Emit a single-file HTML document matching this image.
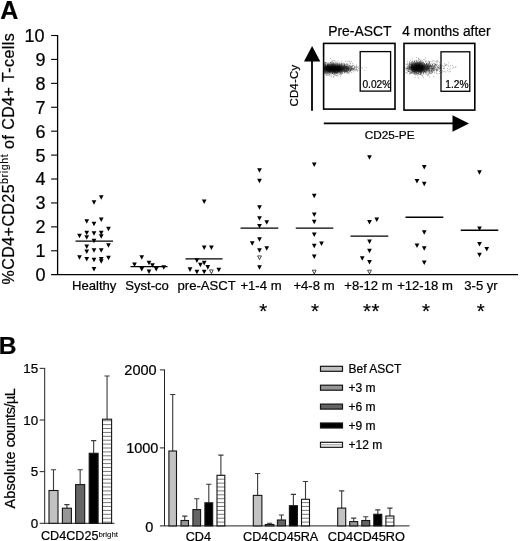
<!DOCTYPE html><html><head><meta charset="utf-8"><style>html,body{margin:0;padding:0;background:#fff}svg{display:block;will-change:transform}text{font-family:"Liberation Sans",sans-serif;fill:#000;stroke:#000;stroke-width:.22px}</style></head><body>
<svg width="520" height="541" viewBox="0 0 520 541">
<rect width="520" height="541" fill="#fff"/>
<defs><path id="t" d="M-2.35,-2.15L2.35,-2.15L0,2.45Z" fill="#000"/><path id="o" d="M-1.9,-1.8L1.9,-1.8L0,2Z" fill="#fff" stroke="#000" stroke-width="0.7"/>
<pattern id="hs" width="4" height="3.9" patternUnits="userSpaceOnUse"><rect width="4" height="3.9" fill="#fff"/><rect y="2.9" width="4" height="1" fill="#777"/></pattern>
</defs>
<text x="0.2" y="19.2" font-size="25" font-weight="bold">A</text>
<path d="M57.6,34.99999999999997V274.7M51.1,274.7H518" fill="none" stroke="#000" stroke-width="1.3"/>
<path d="M51.1,250.78H57.6" stroke="#000" stroke-width="1.1"/>
<path d="M51.1,226.86H57.6" stroke="#000" stroke-width="1.1"/>
<path d="M51.1,202.94H57.6" stroke="#000" stroke-width="1.1"/>
<path d="M51.1,179.02H57.6" stroke="#000" stroke-width="1.1"/>
<path d="M51.1,155.10H57.6" stroke="#000" stroke-width="1.1"/>
<path d="M51.1,131.18H57.6" stroke="#000" stroke-width="1.1"/>
<path d="M51.1,107.26H57.6" stroke="#000" stroke-width="1.1"/>
<path d="M51.1,83.34H57.6" stroke="#000" stroke-width="1.1"/>
<path d="M51.1,59.42H57.6" stroke="#000" stroke-width="1.1"/>
<path d="M51.1,35.50H57.6" stroke="#000" stroke-width="1.1"/>
<text x="45.6" y="281.10" font-size="18" text-anchor="end">0</text>
<text x="45.6" y="257.18" font-size="18" text-anchor="end">1</text>
<text x="45.6" y="233.26" font-size="18" text-anchor="end">2</text>
<text x="45.6" y="209.34" font-size="18" text-anchor="end">3</text>
<text x="45.6" y="185.42" font-size="18" text-anchor="end">4</text>
<text x="45.6" y="161.50" font-size="18" text-anchor="end">5</text>
<text x="45.6" y="137.58" font-size="18" text-anchor="end">6</text>
<text x="45.6" y="113.66" font-size="18" text-anchor="end">7</text>
<text x="45.6" y="89.74" font-size="18" text-anchor="end">8</text>
<text x="45.6" y="65.82" font-size="18" text-anchor="end">9</text>
<text x="44.6" y="41.90" font-size="18" text-anchor="end">10</text>
<text transform="translate(13.8,284.4) rotate(-90)" font-size="16" letter-spacing="0.44">%CD4+CD25<tspan font-size="10.5" dy="-5.6" letter-spacing="0.65" stroke-width="0.1">bright</tspan><tspan dy="5.6"> of CD4+ T-cells</tspan></text>
<path d="M75.5,241.10H113" stroke="#000" stroke-width="1.4"/>
<use href="#t" x="101.25" y="197.30"/>
<use href="#t" x="94" y="202.30"/>
<use href="#t" x="86.75" y="221.30"/>
<use href="#t" x="101.25" y="219.55"/>
<use href="#t" x="94" y="223.80"/>
<use href="#t" x="108.5" y="228.80"/>
<use href="#t" x="79.5" y="235.80"/>
<use href="#t" x="86.75" y="232.80"/>
<use href="#t" x="94" y="233.30"/>
<use href="#t" x="101.25" y="232.80"/>
<use href="#t" x="86.75" y="237.30"/>
<use href="#t" x="101.25" y="236.30"/>
<use href="#t" x="94" y="240.80"/>
<use href="#t" x="108.5" y="245.30"/>
<use href="#t" x="86.75" y="246.55"/>
<use href="#t" x="86.75" y="251.55"/>
<use href="#t" x="94" y="250.30"/>
<use href="#t" x="101.25" y="250.30"/>
<use href="#t" x="79.5" y="257.30"/>
<use href="#t" x="86.75" y="259.05"/>
<use href="#t" x="94" y="259.80"/>
<use href="#t" x="101.25" y="259.05"/>
<use href="#t" x="101.25" y="261.30"/>
<use href="#t" x="108.5" y="257.80"/>
<use href="#t" x="94" y="269.05"/>
<text x="94.2" y="290.3" font-size="13.1" text-anchor="middle">Healthy</text>
<path d="M130.5,266.60H167.5" stroke="#000" stroke-width="1.4"/>
<use href="#t" x="141.75" y="257.30"/>
<use href="#t" x="134.5" y="264.55"/>
<use href="#t" x="149" y="262.80"/>
<use href="#t" x="152.5" y="265.30"/>
<use href="#t" x="141.75" y="269.05"/>
<use href="#t" x="156.25" y="269.05"/>
<use href="#t" x="163.75" y="267.30"/>
<use href="#t" x="149" y="271.55"/>
<text x="147" y="290.3" font-size="13.1" text-anchor="middle">Syst-co</text>
<path d="M185.5,258.90H222.6" stroke="#000" stroke-width="1.4"/>
<use href="#t" x="204.2" y="201.55"/>
<use href="#t" x="204.2" y="247.60"/>
<use href="#t" x="211.4" y="247.60"/>
<use href="#t" x="196.9" y="260.50"/>
<use href="#t" x="204.2" y="263.00"/>
<use href="#t" x="200.4" y="264.90"/>
<use href="#t" x="207.8" y="267.20"/>
<use href="#t" x="190" y="269.50"/>
<use href="#t" x="196.9" y="271.80"/>
<use href="#t" x="204.2" y="271.80"/>
<use href="#t" x="218.8" y="269.90"/>
<use href="#o" x="211.4" y="271.70"/>
<text x="206.7" y="290.3" font-size="13.1" text-anchor="middle">pre-ASCT</text>
<path d="M240.5,228.10H278.3" stroke="#000" stroke-width="1.4"/>
<use href="#t" x="259.5" y="170.30"/>
<use href="#t" x="259.5" y="180.80"/>
<use href="#t" x="259.5" y="207.30"/>
<use href="#t" x="259.5" y="218.30"/>
<use href="#t" x="266.75" y="222.30"/>
<use href="#t" x="259.5" y="226.05"/>
<use href="#t" x="259.5" y="239.30"/>
<use href="#t" x="252.25" y="243.30"/>
<use href="#t" x="266.75" y="248.30"/>
<use href="#t" x="259.5" y="250.30"/>
<use href="#t" x="259.5" y="267.30"/>
<use href="#o" x="259.5" y="257.70"/>
<text x="261" y="290.3" font-size="13.1" text-anchor="middle">+1-4 m</text>
<path d="M295.75,228.10H333.3" stroke="#000" stroke-width="1.4"/>
<use href="#t" x="314.25" y="164.55"/>
<use href="#t" x="314.25" y="195.80"/>
<use href="#t" x="314.25" y="214.55"/>
<use href="#t" x="314.25" y="221.80"/>
<use href="#t" x="314.25" y="234.55"/>
<use href="#t" x="314.25" y="245.80"/>
<use href="#t" x="321.5" y="243.55"/>
<use href="#t" x="314.25" y="256.55"/>
<use href="#o" x="314.25" y="271.95"/>
<text x="314" y="290.3" font-size="13.1" text-anchor="middle">+4-8 m</text>
<path d="M350.5,236.10H388.3" stroke="#000" stroke-width="1.4"/>
<use href="#t" x="369.5" y="157.30"/>
<use href="#t" x="369.5" y="222.05"/>
<use href="#t" x="376.75" y="219.55"/>
<use href="#t" x="369.5" y="241.55"/>
<use href="#t" x="369.5" y="250.80"/>
<use href="#t" x="362.25" y="258.30"/>
<use href="#t" x="369.5" y="262.05"/>
<use href="#o" x="369.5" y="271.95"/>
<text x="368.5" y="290.3" font-size="13.1" text-anchor="middle">+8-12 m</text>
<path d="M405.5,217.30H443.3" stroke="#000" stroke-width="1.4"/>
<use href="#t" x="424.25" y="167.05"/>
<use href="#t" x="417" y="181.05"/>
<use href="#t" x="424.25" y="183.80"/>
<use href="#t" x="424.25" y="232.30"/>
<use href="#t" x="417" y="245.55"/>
<use href="#t" x="424.25" y="248.30"/>
<use href="#t" x="424.25" y="262.55"/>
<text x="425" y="290.3" font-size="13.1" text-anchor="middle">+12-18 m</text>
<path d="M460.75,230.30H498.3" stroke="#000" stroke-width="1.4"/>
<use href="#t" x="479.5" y="172.30"/>
<use href="#t" x="479.5" y="228.55"/>
<use href="#t" x="479.5" y="244.05"/>
<use href="#t" x="486.75" y="249.05"/>
<use href="#t" x="479.5" y="254.80"/>
<text x="481" y="290.3" font-size="13.1" text-anchor="middle">3-5 yr</text>
<text x="263.5" y="317.5" font-size="20.5" text-anchor="middle" stroke="#000" stroke-width="0.35" letter-spacing="0.6">*</text>
<text x="315.3" y="317.5" font-size="20.5" text-anchor="middle" stroke="#000" stroke-width="0.35" letter-spacing="0.6">*</text>
<text x="371.6" y="317.5" font-size="20.5" text-anchor="middle" stroke="#000" stroke-width="0.35" letter-spacing="0.6">**</text>
<text x="426.3" y="317.5" font-size="20.5" text-anchor="middle" stroke="#000" stroke-width="0.35" letter-spacing="0.6">*</text>
<text x="481" y="317.5" font-size="20.5" text-anchor="middle" stroke="#000" stroke-width="0.35" letter-spacing="0.6">*</text>
<text x="328.2" y="36.3" font-size="13.9">Pre-ASCT</text>
<text x="402.3" y="36" font-size="13.8">4 months after</text>
<rect x="323.6" y="43.4" width="71.4" height="65.7" fill="none" stroke="#000" stroke-width="1.6"/>
<rect x="404" y="43.4" width="70.8" height="66.7" fill="none" stroke="#000" stroke-width="1.6"/>
<defs><filter id="bl" x="-50%" y="-50%" width="200%" height="200%"><feGaussianBlur stdDeviation="1.4"/></filter><clipPath id="c1"><rect x="323.6" y="43.4" width="71.8" height="65"/></clipPath><clipPath id="c2"><rect x="404" y="43.4" width="70.3" height="66"/></clipPath></defs>
<g clip-path="url(#c1)">
<ellipse cx="332" cy="68.6" rx="10.5" ry="4.3" fill="#000" opacity="0.95" filter="url(#bl)"/>
<ellipse cx="344" cy="68.6" rx="9" ry="2.4" fill="#000" opacity="0.55" filter="url(#bl)"/>
<path d="M331.1 70.1h.6M331.3 67.7h.6M326.0 68.0h.6M341.3 69.8h.6M340.8 69.3h.6M336.0 69.1h.6M320.5 71.1h.6M336.8 70.0h.6M323.2 63.5h.6M329.5 69.5h.6M332.7 70.1h.6M328.2 69.5h.6M336.0 66.7h.6M345.9 70.2h.6M342.0 66.8h.6M327.5 67.6h.6M332.2 70.4h.6M334.9 67.3h.6M325.8 67.1h.6M342.2 66.3h.6M334.8 69.8h.6M321.8 68.7h.6M342.8 62.8h.6M330.6 68.3h.6M326.9 70.0h.6M332.5 64.4h.6M339.2 70.5h.6M340.1 72.8h.6M335.7 68.9h.6M323.3 70.4h.6M328.4 67.3h.6M323.5 65.8h.6M329.0 72.3h.6M321.2 64.4h.6M343.8 70.3h.6M321.6 61.3h.6M327.5 65.4h.6M340.3 71.8h.6M334.2 69.3h.6M336.3 73.2h.6M337.6 70.1h.6M337.1 64.1h.6M342.6 71.4h.6M337.0 62.9h.6M328.2 71.0h.6M323.6 68.1h.6M323.2 73.3h.6M337.1 68.2h.6M335.4 70.5h.6M333.9 71.9h.6M328.0 67.4h.6M340.8 68.7h.6M326.4 71.3h.6M344.0 67.3h.6M322.7 68.2h.6M331.9 67.7h.6M343.5 65.6h.6M342.5 64.9h.6M327.1 70.4h.6M341.5 71.1h.6M335.6 69.0h.6M334.1 70.3h.6M331.7 69.4h.6M337.3 68.6h.6M338.7 70.2h.6M348.1 69.5h.6M329.8 67.5h.6M332.9 71.3h.6M330.5 69.7h.6M346.8 61.2h.6M324.6 69.3h.6M336.0 69.3h.6M329.8 70.5h.6M335.1 67.1h.6M351.2 69.6h.6M328.8 68.3h.6M331.3 68.4h.6M323.5 67.2h.6M324.2 68.4h.6M340.2 71.1h.6M344.2 63.7h.6M330.3 67.6h.6M337.7 71.8h.6M324.8 71.8h.6M338.1 64.3h.6M334.3 72.1h.6M331.9 69.2h.6M339.0 69.0h.6M332.3 73.0h.6M340.9 67.7h.6M353.6 65.3h.6M339.9 67.8h.6M334.0 70.6h.6M334.7 70.5h.6M321.5 64.2h.6M337.6 65.8h.6M325.3 64.3h.6M342.5 70.8h.6M344.0 65.9h.6M333.0 65.3h.6M338.7 73.2h.6M326.3 73.1h.6M340.4 68.1h.6M320.8 72.7h.6M328.5 69.8h.6M336.1 72.9h.6M325.3 71.9h.6M344.2 72.8h.6M331.6 66.4h.6M340.6 68.9h.6M333.9 72.7h.6M331.0 61.9h.6M330.1 63.2h.6M339.1 69.5h.6M328.4 68.6h.6M339.2 68.8h.6M342.9 68.4h.6M340.8 72.9h.6M345.1 66.7h.6M339.6 63.2h.6M324.9 62.9h.6M341.0 65.0h.6M332.9 68.0h.6M332.8 66.9h.6M334.8 73.8h.6M333.3 70.1h.6M340.5 68.0h.6M323.6 67.0h.6M341.1 63.8h.6M328.5 71.5h.6M338.9 68.6h.6M339.0 69.1h.6M324.2 64.1h.6M328.2 71.3h.6M328.8 66.0h.6M327.2 64.2h.6M332.1 65.2h.6M335.7 61.8h.6M335.5 66.7h.6M321.3 70.7h.6M321.4 66.1h.6M329.6 70.9h.6M338.6 70.5h.6M335.4 72.5h.6M337.9 69.9h.6M324.4 71.2h.6M330.8 67.2h.6M347.6 63.5h.6M336.5 75.6h.6M326.0 70.6h.6M347.1 68.3h.6M337.2 71.2h.6M326.2 68.3h.6M335.2 71.0h.6M332.7 68.0h.6M325.4 67.6h.6M339.7 68.9h.6M326.6 66.2h.6M353.0 71.9h.6M337.8 61.1h.6M337.7 70.0h.6M345.6 69.8h.6M332.5 70.1h.6M321.5 71.6h.6M327.7 72.4h.6M346.6 64.5h.6M328.0 69.4h.6M334.4 67.4h.6M325.7 74.7h.6M340.8 65.1h.6M322.9 73.5h.6M340.4 73.9h.6M339.1 66.1h.6M335.0 62.3h.6M327.4 68.4h.6M336.9 66.5h.6M332.1 69.9h.6M335.8 70.5h.6M334.6 67.7h.6M338.9 68.7h.6M326.8 66.8h.6M333.0 68.3h.6M334.2 68.6h.6M334.3 68.2h.6M323.6 69.8h.6M340.9 69.9h.6M331.6 69.9h.6M325.8 63.1h.6M333.4 65.9h.6M338.5 65.5h.6M325.2 65.6h.6M330.1 64.6h.6M327.3 70.1h.6M336.7 69.1h.6M344.1 70.6h.6M332.8 70.3h.6M345.4 71.4h.6M340.7 65.5h.6M331.9 70.7h.6M330.8 71.7h.6M337.5 71.2h.6M331.4 76.0h.6M342.3 68.0h.6M333.7 76.1h.6M330.4 71.1h.6M340.4 68.6h.6M324.2 69.1h.6M335.7 71.9h.6M338.9 68.7h.6M339.4 70.2h.6M334.5 68.8h.6M331.2 70.6h.6M325.1 66.8h.6M333.0 64.4h.6M329.7 62.8h.6M327.9 70.2h.6M337.2 68.4h.6M331.3 64.5h.6M346.7 70.1h.6M341.2 66.0h.6M331.6 63.3h.6M338.9 71.3h.6M322.4 68.4h.6M323.7 63.3h.6M328.3 64.5h.6M333.2 69.3h.6M337.8 70.6h.6M344.3 72.0h.6M323.2 67.1h.6M325.0 65.5h.6M332.4 68.6h.6M336.7 64.0h.6M323.7 68.5h.6M331.5 67.7h.6M332.5 66.4h.6M338.3 69.6h.6M332.3 66.7h.6M331.7 60.7h.6M325.6 68.7h.6M321.7 69.2h.6M334.1 64.6h.6M331.1 67.7h.6M336.4 70.4h.6M332.7 66.1h.6M331.9 68.4h.6M338.5 69.5h.6M327.6 64.7h.6M330.2 66.5h.6M324.7 68.3h.6M329.3 68.9h.6M336.9 67.4h.6M350.4 67.7h.6M341.3 69.0h.6M341.4 61.7h.6M327.4 69.3h.6M337.5 75.4h.6M335.4 72.3h.6M338.7 71.3h.6M336.8 68.1h.6M336.8 65.5h.6M341.9 65.7h.6M334.9 74.8h.6M331.3 68.7h.6M341.7 68.7h.6M326.9 69.3h.6M337.4 70.7h.6M327.2 73.7h.6M345.5 68.7h.6M335.0 67.4h.6M343.6 66.6h.6M338.1 67.2h.6M327.8 70.7h.6M343.0 68.6h.6M327.9 71.0h.6M332.6 69.5h.6M344.4 71.9h.6M329.1 75.2h.6M333.0 70.9h.6M328.1 68.5h.6M324.6 73.8h.6M323.9 64.2h.6M320.8 72.0h.6M329.6 68.4h.6M330.7 68.2h.6M324.8 68.7h.6M322.2 68.4h.6M335.3 70.0h.6M331.3 66.0h.6M334.2 67.2h.6M344.7 70.8h.6M332.1 67.2h.6M327.7 65.9h.6M330.4 69.5h.6M336.9 70.2h.6M348.7 66.6h.6M333.1 76.7h.6M321.0 67.1h.6M334.2 69.8h.6M331.2 69.7h.6M333.4 70.8h.6M320.5 66.0h.6M325.3 65.6h.6M337.7 66.7h.6M337.8 70.8h.6M335.3 70.1h.6M332.2 64.5h.6M332.8 69.9h.6M329.0 68.3h.6M338.6 66.1h.6M337.8 74.0h.6M328.8 69.0h.6M331.9 73.1h.6M335.4 71.2h.6M327.8 68.6h.6M332.9 63.4h.6M343.8 71.2h.6M320.9 70.8h.6M336.4 69.7h.6M321.8 68.0h.6M344.2 66.9h.6M325.3 64.7h.6M323.8 69.6h.6M345.7 69.8h.6M334.8 75.1h.6M329.1 66.6h.6M337.0 70.2h.6M325.4 65.2h.6M335.2 69.3h.6M323.2 68.0h.6M328.9 69.9h.6M332.1 68.4h.6M330.3 71.7h.6M343.4 67.5h.6M339.3 66.4h.6M333.5 70.8h.6M344.4 67.5h.6M332.4 69.2h.6M321.8 68.6h.6M327.9 69.7h.6M324.5 62.9h.6M333.3 69.4h.6M328.9 71.2h.6M331.0 66.8h.6M336.6 64.1h.6M327.9 68.5h.6M339.4 68.1h.6M335.3 66.7h.6M335.3 73.4h.6M327.9 75.5h.6M328.2 68.6h.6M334.3 71.6h.6M323.7 62.5h.6M337.5 70.9h.6M337.7 76.2h.6M334.5 69.3h.6M340.0 69.7h.6M345.5 65.0h.6M330.2 58.6h.6M339.1 67.5h.6M339.9 74.8h.6M333.0 67.9h.6M329.3 66.2h.6M328.3 70.5h.6M333.3 68.8h.6M331.7 71.3h.6M336.7 68.2h.6M338.0 68.2h.6M324.4 72.8h.6M336.5 65.8h.6M341.1 69.6h.6M321.3 73.3h.6M335.5 71.2h.6M334.5 68.2h.6M321.4 71.4h.6M333.2 67.8h.6M335.6 68.8h.6M338.1 67.5h.6M332.7 62.4h.6M329.8 70.6h.6M343.0 67.5h.6M332.1 73.2h.6M330.6 70.7h.6M345.6 68.7h.6M342.2 66.5h.6M334.6 68.4h.6M333.9 71.9h.6M350.9 66.7h.6M328.7 70.0h.6M325.1 70.0h.6M337.3 67.8h.6M337.0 64.1h.6M338.7 64.1h.6M327.8 67.0h.6M330.0 71.1h.6M333.6 67.4h.6M337.1 73.2h.6M333.0 69.7h.6M342.3 69.4h.6M323.4 75.8h.6M349.6 62.8h.6M332.7 69.8h.6M340.2 70.5h.6M331.0 65.5h.6M333.8 71.6h.6M324.8 65.6h.6M332.8 63.0h.6M331.0 67.3h.6M336.4 66.6h.6M326.4 67.5h.6M332.6 66.7h.6M333.1 70.8h.6M341.9 73.5h.6M327.1 67.4h.6M322.7 74.1h.6M332.7 70.1h.6M322.8 69.9h.6M332.8 63.3h.6M335.2 72.1h.6M321.1 70.9h.6M336.6 69.9h.6M342.8 68.0h.6M339.6 67.4h.6M338.5 66.2h.6M332.2 73.6h.6M336.3 68.1h.6M324.4 66.3h.6M334.5 71.3h.6M336.2 70.1h.6M332.7 72.5h.6M330.1 67.0h.6M339.7 68.8h.6M330.9 66.9h.6M331.1 70.4h.6M335.7 65.1h.6M336.2 69.1h.6M325.5 70.8h.6M330.9 67.6h.6M339.0 72.4h.6M327.8 69.9h.6M326.4 75.3h.6M329.3 72.1h.6M328.1 71.0h.6M349.6 61.2h.6M329.7 70.1h.6M332.3 66.7h.6M349.1 68.8h.6M320.7 71.1h.6M322.2 71.9h.6M334.1 72.3h.6M333.9 64.6h.6M322.7 72.0h.6M326.9 71.1h.6M336.7 70.5h.6M323.2 67.7h.6M338.5 71.2h.6M322.0 69.1h.6M352.1 65.8h.6M330.5 68.7h.6M339.6 67.3h.6M341.6 66.3h.6M335.0 67.1h.6M334.2 66.6h.6M321.0 71.8h.6M335.3 67.0h.6M334.5 71.5h.6M325.7 68.3h.6M337.0 70.1h.6M330.5 62.5h.6M342.3 69.6h.6M333.1 67.8h.6M335.0 67.4h.6M325.3 66.5h.6M328.5 66.8h.6M324.3 70.4h.6M323.2 70.5h.6M325.4 69.6h.6M343.3 69.2h.6M327.5 68.7h.6M334.1 63.6h.6M328.4 69.1h.6M329.5 68.8h.6M338.5 70.8h.6M339.8 70.3h.6M330.8 68.5h.6M331.0 67.7h.6M331.7 63.6h.6M330.5 68.5h.6M325.7 68.5h.6M336.9 68.1h.6M348.6 61.0h.6M331.5 63.3h.6M340.3 76.3h.6M322.1 69.0h.6M330.7 70.2h.6M321.6 71.1h.6M333.2 66.9h.6M337.8 67.2h.6M334.7 67.1h.6M321.1 68.5h.6M338.7 66.1h.6M332.8 70.4h.6M334.1 72.2h.6M347.9 66.0h.6M325.1 71.1h.6M339.9 71.0h.6M328.4 66.5h.6M339.7 66.0h.6M328.0 65.7h.6M347.4 66.6h.6M327.5 69.3h.6M327.4 72.4h.6M332.4 65.4h.6M342.8 66.9h.6M334.7 68.6h.6M330.6 69.5h.6M327.8 63.3h.6M322.8 64.9h.6M332.8 68.8h.6M337.2 68.9h.6M327.0 66.5h.6M322.0 68.1h.6M337.0 68.2h.6M331.7 71.3h.6M333.1 70.7h.6M337.4 69.2h.6M342.8 66.9h.6M330.3 66.3h.6M327.0 73.1h.6M346.2 68.7h.6M337.3 72.0h.6M339.1 72.1h.6M323.5 66.7h.6M336.4 72.8h.6M333.8 66.1h.6M330.3 66.7h.6M326.6 73.0h.6M328.3 68.7h.6M349.2 72.0h.6M335.5 66.8h.6M336.1 73.3h.6M337.7 72.3h.6M333.7 70.1h.6M331.5 69.8h.6M342.8 64.4h.6M332.5 69.3h.6M328.7 67.7h.6M338.9 74.4h.6M337.7 69.5h.6M321.4 74.2h.6M333.6 68.5h.6M324.6 68.4h.6M324.8 68.8h.6M336.5 68.7h.6M335.1 66.1h.6M343.7 66.7h.6M322.8 68.1h.6M325.4 67.6h.6M335.2 65.2h.6M332.0 72.7h.6M338.1 68.2h.6M334.0 68.3h.6M332.6 70.7h.6M332.3 61.6h.6M332.8 66.0h.6M337.9 66.8h.6M334.1 74.9h.6M325.1 65.3h.6M322.4 61.7h.6M322.4 69.7h.6M322.4 64.3h.6M327.2 67.5h.6M335.5 72.5h.6M347.6 71.6h.6M334.1 69.1h.6M346.5 72.7h.6M330.7 69.9h.6M335.2 68.8h.6M329.2 64.8h.6M329.0 64.1h.6M342.2 70.2h.6M324.0 72.6h.6M339.7 63.1h.6M346.8 70.9h.6M348.5 65.0h.6M337.0 69.8h.6M334.5 69.1h.6M340.9 64.3h.6M323.7 64.6h.6M328.8 66.8h.6M335.8 69.4h.6M333.2 66.6h.6M329.7 71.4h.6M338.7 68.9h.6M330.6 73.1h.6M328.5 70.5h.6M341.7 67.8h.6M339.2 65.4h.6M340.6 69.2h.6M321.1 70.5h.6M326.3 72.3h.6M327.9 68.1h.6M335.1 67.6h.6M334.9 67.0h.6M338.0 68.6h.6M334.6 60.6h.6M341.7 68.7h.6M321.9 68.9h.6M341.0 65.5h.6M344.6 68.1h.6M351.0 68.2h.6M338.1 67.5h.6M324.6 71.8h.6M339.8 73.1h.6M339.4 66.9h.6M320.5 66.7h.6M327.9 66.2h.6M337.4 69.6h.6M331.0 69.1h.6M331.9 69.2h.6M338.6 71.4h.6M327.9 64.2h.6M343.7 68.9h.6M341.3 63.8h.6M330.5 68.7h.6M322.2 67.1h.6M338.4 71.7h.6M345.0 66.1h.6M322.5 70.1h.6M340.1 69.2h.6M323.2 70.9h.6M338.9 70.2h.6M329.3 69.5h.6M338.9 67.0h.6M321.9 69.6h.6M333.1 71.2h.6M328.6 68.4h.6M330.7 70.3h.6M345.0 67.9h.6M348.4 73.0h.6M338.9 70.3h.6M346.3 68.1h.6M332.2 65.5h.6M336.5 72.5h.6M337.0 69.8h.6M331.5 69.1h.6M322.3 71.6h.6M329.9 65.4h.6M327.4 66.2h.6M339.4 71.7h.6M322.8 71.3h.6M339.7 66.9h.6M321.9 66.4h.6M328.2 69.6h.6M330.3 62.7h.6M334.8 64.2h.6M339.8 65.1h.6M327.8 66.1h.6M328.9 72.4h.6M339.4 70.3h.6M335.4 64.1h.6M329.1 67.0h.6M325.7 70.1h.6M327.4 66.5h.6M325.2 62.6h.6M337.5 72.5h.6M334.3 65.8h.6M324.1 69.1h.6M335.2 71.3h.6M344.1 71.9h.6M329.7 71.7h.6M338.8 64.1h.6M330.0 64.5h.6M332.2 70.3h.6M325.0 62.6h.6M342.7 69.7h.6M344.0 64.8h.6M341.0 74.6h.6M348.1 68.0h.6M335.0 68.2h.6M340.5 71.6h.6M333.7 64.7h.6M338.6 67.2h.6M337.7 69.4h.6M345.2 71.9h.6M329.6 69.6h.6M346.2 67.0h.6M336.3 72.1h.6M342.4 70.1h.6M323.1 64.9h.6M334.9 69.7h.6M352.1 66.1h.6M341.5 70.8h.6M321.0 66.2h.6M329.3 68.2h.6M336.5 66.3h.6M336.5 66.8h.6M328.9 70.2h.6M328.7 69.4h.6M345.0 68.7h.6M331.9 70.7h.6M330.3 71.7h.6M323.4 70.4h.6M329.2 66.3h.6M346.3 66.1h.6M346.2 70.5h.6M343.9 65.8h.6M342.0 72.8h.6M332.1 68.2h.6M351.4 69.1h.6M329.8 66.8h.6M336.3 69.6h.6M334.3 73.6h.6M330.5 70.0h.6M343.9 65.7h.6M340.8 73.9h.6M322.8 65.4h.6M325.2 63.2h.6M336.4 63.2h.6M336.7 72.8h.6M320.9 67.7h.6M322.7 70.9h.6M331.0 68.8h.6M337.1 67.6h.6M333.1 67.0h.6M333.9 65.2h.6M333.5 63.0h.6M329.3 74.2h.6M333.6 64.9h.6M334.9 65.8h.6M320.6 66.5h.6M338.5 69.7h.6M332.3 65.9h.6M324.9 72.5h.6M334.8 65.8h.6M327.9 64.6h.6M324.4 68.4h.6M334.6 68.1h.6M330.9 64.6h.6M325.1 73.5h.6M327.3 71.1h.6M321.3 67.8h.6M340.8 65.3h.6M337.5 69.7h.6M327.5 70.0h.6M326.3 66.3h.6M332.9 60.7h.6M332.2 65.7h.6M322.0 67.4h.6M338.7 67.4h.6M342.5 65.2h.6M323.2 73.1h.6M336.0 71.3h.6M326.8 70.9h.6M334.9 70.5h.6M333.2 72.1h.6M328.1 65.8h.6M321.9 72.0h.6M327.5 65.6h.6M326.0 67.3h.6M323.5 67.8h.6M328.3 67.0h.6M325.8 68.7h.6M329.5 68.9h.6M334.9 69.6h.6M322.9 67.0h.6M338.8 64.0h.6M327.6 67.7h.6M330.5 71.5h.6M329.7 71.4h.6M322.0 63.3h.6M342.1 69.9h.6M336.7 69.0h.6M336.6 65.1h.6M340.1 67.1h.6M340.4 68.9h.6M323.9 64.9h.6M332.0 67.5h.6M334.8 67.4h.6M328.9 68.9h.6M334.1 73.0h.6M333.3 74.1h.6M346.5 73.6h.6M341.0 69.0h.6M334.0 68.2h.6M327.5 68.4h.6M328.2 73.4h.6M337.0 67.3h.6M321.7 68.4h.6M324.9 65.3h.6M320.7 70.3h.6M352.4 68.5h.6M331.9 72.8h.6M334.0 69.1h.6M330.2 66.8h.6M344.2 71.5h.6M345.9 67.6h.6M333.2 66.0h.6M340.3 64.6h.6M337.2 71.8h.6M343.6 65.9h.6M341.2 66.5h.6M327.3 64.8h.6M341.7 73.4h.6M328.5 66.4h.6M330.5 75.9h.6M340.5 67.0h.6M324.1 66.6h.6M347.0 67.8h.6M327.8 67.1h.6M323.8 71.2h.6M341.0 63.6h.6M323.5 69.4h.6M327.3 70.9h.6M333.1 65.2h.6M337.7 71.0h.6M322.0 73.9h.6M338.7 63.2h.6M327.6 67.6h.6M341.1 64.4h.6M326.4 62.7h.6M331.2 69.6h.6M322.0 66.9h.6M344.9 70.5h.6M330.7 65.2h.6M326.0 66.7h.6M334.1 68.5h.6M345.5 69.4h.6M325.0 73.1h.6M340.1 68.9h.6M327.6 63.2h.6M325.3 71.2h.6M327.0 64.8h.6M334.5 69.3h.6M337.5 70.5h.6M343.6 66.2h.6M340.3 65.7h.6M338.2 69.1h.6M334.8 71.4h.6M332.9 71.8h.6M339.6 69.0h.6M328.7 66.4h.6M329.0 68.0h.6M332.8 77.2h.6M337.8 70.8h.6M326.5 66.5h.6M330.6 69.2h.6M325.2 73.3h.6M328.8 71.7h.6M321.3 68.6h.6M334.4 70.3h.6M335.1 69.1h.6M327.5 66.5h.6M337.7 69.5h.6M331.5 66.2h.6M328.6 74.0h.6M346.0 68.4h.6M342.7 64.0h.6M323.1 67.2h.6M328.8 69.1h.6M355.7 66.7h.6M333.4 69.4h.6M332.7 71.3h.6M346.3 65.0h.6M334.2 67.8h.6M335.7 64.2h.6M322.1 61.9h.6M334.4 68.8h.6M322.8 67.5h.6M322.4 65.9h.6M338.2 70.2h.6M332.8 70.1h.6M328.5 68.8h.6M333.3 70.2h.6M332.5 68.2h.6M332.0 66.7h.6M349.8 70.1h.6M336.2 75.2h.6M343.5 64.1h.6M338.2 71.0h.6M347.1 72.4h.6M338.8 65.2h.6M326.5 69.4h.6M336.8 65.6h.6M330.1 67.4h.6M333.5 69.6h.6M330.8 65.0h.6M342.3 73.2h.6M332.2 71.6h.6M336.3 70.5h.6M336.6 66.4h.6M337.3 71.5h.6M326.3 74.3h.6M348.7 73.9h.6M347.9 70.8h.6M330.5 66.9h.6M326.9 68.9h.6M332.8 70.5h.6M327.3 75.3h.6M332.8 70.6h.6M336.6 69.4h.6M339.1 68.4h.6M345.2 69.0h.6M337.2 69.2h.6M345.6 68.7h.6M337.5 69.8h.6M347.6 69.4h.6M346.8 69.8h.6M340.7 67.6h.6M339.4 70.1h.6M352.5 68.3h.6M343.4 69.4h.6M339.0 66.8h.6M344.4 68.4h.6M343.7 66.2h.6M347.2 69.6h.6M349.2 68.8h.6M340.5 68.4h.6M347.2 68.5h.6M340.3 69.3h.6M345.4 70.8h.6M353.8 68.2h.6M337.1 70.5h.6M343.1 69.7h.6M342.7 70.1h.6M354.4 67.8h.6M341.4 66.7h.6M346.7 71.0h.6M337.4 66.3h.6M341.0 70.9h.6M347.9 70.2h.6M355.3 67.2h.6M351.2 66.1h.6M348.3 72.4h.6M344.6 70.8h.6M340.3 66.1h.6M338.0 68.2h.6M337.5 70.0h.6M338.4 69.0h.6M341.2 68.6h.6M355.4 69.5h.6M337.8 68.2h.6M343.3 71.3h.6M338.5 66.4h.6M342.6 68.3h.6M341.5 70.8h.6M348.6 69.6h.6M338.4 66.2h.6M337.5 68.4h.6M342.0 67.7h.6M340.0 65.3h.6M347.8 70.2h.6M347.4 68.6h.6M343.0 70.8h.6M357.9 67.0h.6M343.7 69.9h.6M347.3 64.8h.6M351.5 68.9h.6M346.0 68.7h.6M346.0 63.4h.6M348.1 70.1h.6M357.8 70.1h.6M354.8 70.9h.6M341.0 73.1h.6M343.1 68.6h.6M347.5 67.3h.6M344.0 67.9h.6M337.7 66.4h.6M341.8 69.7h.6M337.7 72.0h.6M340.3 71.2h.6M342.5 70.1h.6M356.3 69.0h.6M338.8 67.6h.6M343.1 67.9h.6M344.2 64.2h.6M343.0 67.5h.6M342.2 66.5h.6M338.4 70.2h.6M339.5 67.6h.6M350.6 70.6h.6M346.2 70.9h.6M340.3 68.3h.6M348.1 67.5h.6M338.2 69.4h.6M340.7 68.0h.6M346.8 68.2h.6M344.3 70.7h.6M343.6 70.1h.6M348.6 66.0h.6M343.2 69.6h.6M352.0 66.2h.6M340.1 66.9h.6M344.3 68.0h.6M343.9 69.0h.6M348.8 66.6h.6M345.9 70.5h.6M337.7 69.6h.6M342.6 66.4h.6M341.1 67.3h.6M365.9 67.6h.6M353.5 69.0h.6M340.1 70.1h.6M344.8 70.4h.6M340.8 65.6h.6M343.0 69.7h.6M341.5 71.8h.6M341.1 69.6h.6M344.5 66.8h.6M349.0 65.7h.6M350.0 69.6h.6M347.9 68.4h.6M353.4 68.7h.6M348.3 69.3h.6M352.3 69.5h.6M339.7 68.7h.6M337.7 68.9h.6M350.2 63.5h.6M337.3 66.7h.6M341.5 69.5h.6M356.9 67.1h.6M343.1 66.5h.6M340.3 68.3h.6M345.2 66.6h.6M345.1 67.3h.6M342.9 69.5h.6M355.9 66.4h.6M337.0 69.3h.6M344.8 70.2h.6M347.3 67.9h.6M339.1 70.2h.6M341.3 70.7h.6M352.9 69.9h.6M338.7 64.7h.6M346.8 69.2h.6M337.2 66.4h.6M341.7 71.6h.6M345.3 61.7h.6M345.6 66.2h.6M338.3 67.8h.6M346.1 66.9h.6M347.5 65.7h.6M356.6 67.5h.6M347.9 70.2h.6M342.6 66.5h.6M344.5 64.9h.6M346.2 70.9h.6M339.6 66.0h.6M342.1 70.4h.6M337.2 65.0h.6M340.5 69.4h.6M344.7 72.3h.6M339.5 67.6h.6M337.4 71.0h.6M346.4 71.2h.6M364.5 70.2h.6M343.8 69.5h.6M343.9 66.2h.6M337.9 69.1h.6M342.9 66.7h.6M346.9 64.8h.6M362.4 68.2h.6M339.2 65.6h.6M346.3 67.5h.6M351.4 70.3h.6M337.2 70.1h.6M348.1 67.9h.6M342.8 66.1h.6M337.2 68.3h.6M351.4 61.9h.6M343.7 66.8h.6M341.6 69.4h.6M341.0 68.7h.6M341.7 69.6h.6M340.6 64.9h.6M339.6 65.9h.6M348.8 68.9h.6M337.6 68.8h.6M345.8 68.2h.6M346.1 69.4h.6M343.9 72.1h.6M349.7 67.0h.6M341.6 66.7h.6M340.1 72.6h.6M344.1 64.2h.6M349.6 66.0h.6M342.2 68.6h.6M340.0 72.2h.6M345.3 66.9h.6M356.7 69.3h.6M344.8 64.5h.6M352.2 63.7h.6M337.7 68.7h.6M346.9 68.3h.6M343.9 67.1h.6M356.0 65.1h.6M338.7 68.7h.6M343.2 67.8h.6M342.0 70.2h.6M338.5 67.7h.6M338.9 66.7h.6M339.1 68.0h.6M339.1 71.3h.6M350.1 67.7h.6M343.0 69.2h.6M344.6 68.6h.6M339.7 67.7h.6M344.8 70.3h.6M350.0 69.9h.6M341.4 69.1h.6M341.5 65.0h.6M343.6 69.0h.6M342.5 66.7h.6M349.8 65.0h.6M354.6 69.9h.6M360.7 67.2h.6M337.2 67.6h.6M338.6 68.2h.6M344.5 70.7h.6M344.8 67.6h.6M342.5 67.5h.6M341.3 69.3h.6M340.7 66.1h.6M338.0 68.2h.6M354.0 66.4h.6M346.7 67.0h.6M340.6 67.9h.6M339.7 70.3h.6M354.5 67.3h.6M350.3 70.6h.6M345.1 67.1h.6M346.0 68.4h.6M340.5 68.1h.6M343.6 70.8h.6M348.3 68.2h.6M347.0 71.5h.6M346.4 71.5h.6M350.4 69.7h.6M342.9 71.6h.6M339.8 67.6h.6M345.0 66.1h.6M344.7 68.1h.6M344.2 69.7h.6M344.6 67.7h.6M341.6 71.9h.6M351.6 68.3h.6M352.7 69.2h.6M337.7 69.3h.6M342.7 68.0h.6M346.3 70.3h.6M339.1 67.8h.6M341.8 70.0h.6M348.0 68.3h.6M344.5 65.8h.6M343.0 68.5h.6M337.4 70.3h.6M351.9 68.5h.6M339.9 70.3h.6M347.8 70.0h.6M339.2 71.3h.6M348.4 69.7h.6M358.5 68.6h.6M341.2 67.9h.6M346.4 68.5h.6M355.8 68.4h.6M341.3 70.6h.6M340.5 71.4h.6M343.5 68.3h.6M355.8 67.1h.6M344.9 71.5h.6M342.2 66.4h.6M342.2 69.5h.6M339.3 68.6h.6M340.0 67.5h.6M354.3 68.4h.6M349.5 71.4h.6M339.7 67.1h.6M339.1 70.4h.6M340.4 67.5h.6M340.5 68.2h.6M342.0 67.8h.6M351.4 68.7h.6M344.4 66.4h.6M338.0 70.3h.6M340.7 67.3h.6M356.8 70.2h.6M347.0 66.8h.6M352.9 65.4h.6M342.0 70.0h.6M350.0 66.8h.6M343.5 69.0h.6M355.8 69.8h.6M342.4 67.7h.6M342.2 70.1h.6M340.0 69.6h.6M351.7 67.7h.6M338.6 67.6h.6M347.0 67.8h.6M341.6 68.9h.6M337.6 71.9h.6M337.8 71.3h.6M345.0 71.2h.6M338.6 70.4h.6M344.3 67.4h.6M339.6 68.4h.6M337.3 71.1h.6M344.0 65.3h.6M353.8 67.7h.6M343.2 68.6h.6M342.5 72.0h.6M340.0 69.5h.6M344.1 69.7h.6M350.1 71.2h.6M355.8 70.3h.6M352.3 70.2h.6M351.4 68.0h.6M342.7 69.4h.6M344.8 66.9h.6M346.3 66.0h.6M350.8 68.6h.6M339.9 66.0h.6M342.7 69.9h.6M351.2 72.6h.6M350.5 66.2h.6M337.4 69.5h.6M344.1 67.9h.6M339.0 68.1h.6M342.5 63.6h.6M346.2 69.1h.6M338.5 67.4h.6M339.4 68.6h.6M337.7 70.7h.6M353.5 69.1h.6M347.2 68.0h.6M351.4 66.5h.6M338.0 67.5h.6M346.1 66.7h.6M353.2 69.6h.6M340.4 68.0h.6M347.4 66.9h.6M340.6 68.9h.6M341.0 67.6h.6M346.9 72.9h.6M340.9 72.2h.6M357.3 71.3h.6M340.3 68.9h.6M340.3 67.4h.6M349.3 67.8h.6M349.4 70.8h.6M340.3 67.6h.6M343.7 66.3h.6M354.3 69.9h.6M338.1 67.7h.6M346.8 71.1h.6M344.5 66.8h.6M346.5 66.5h.6M343.2 66.8h.6M341.0 69.6h.6M341.2 70.5h.6M345.0 71.6h.6M349.9 68.6h.6M341.5 67.1h.6M338.5 66.1h.6M337.9 69.0h.6M349.9 70.4h.6M344.8 67.9h.6M339.2 67.9h.6M339.1 64.9h.6M344.4 65.6h.6M341.9 68.6h.6M341.9 71.8h.6M337.9 71.6h.6M348.3 67.6h.6M340.8 71.1h.6M340.2 68.8h.6M342.4 68.7h.6M340.4 68.8h.6M346.6 71.3h.6M338.3 69.0h.6M345.2 68.0h.6M347.2 70.7h.6" stroke="#000" stroke-width=".6" opacity=".8"/>
</g><g clip-path="url(#c2)">
<ellipse cx="417.3" cy="67.8" rx="7.6" ry="4.7" fill="#000" opacity="0.95" filter="url(#bl)"/>
<ellipse cx="428" cy="67.8" rx="9" ry="2.6" fill="#000" opacity="0.35" filter="url(#bl)"/>
<path d="M412.3 70.7h.6M412.1 73.6h.6M411.7 70.5h.6M425.4 64.8h.6M425.3 65.2h.6M407.8 70.1h.6M421.1 67.2h.6M403.7 67.6h.6M415.7 66.6h.6M415.7 62.1h.6M414.3 73.5h.6M425.6 66.7h.6M413.5 69.1h.6M423.0 70.1h.6M411.0 68.3h.6M418.1 72.4h.6M423.7 69.5h.6M423.8 66.5h.6M425.6 66.5h.6M419.4 70.7h.6M412.4 65.6h.6M407.8 68.3h.6M417.0 66.8h.6M420.0 61.1h.6M417.2 68.1h.6M415.9 70.3h.6M426.7 66.4h.6M412.2 65.9h.6M417.8 69.7h.6M412.7 71.0h.6M411.8 70.4h.6M419.6 69.3h.6M428.9 67.0h.6M416.4 69.3h.6M421.9 63.6h.6M418.8 65.5h.6M420.7 72.1h.6M417.6 67.5h.6M418.3 58.4h.6M421.4 69.6h.6M418.2 66.5h.6M413.4 67.2h.6M423.8 67.5h.6M424.5 59.7h.6M414.8 68.7h.6M417.2 62.5h.6M413.7 71.8h.6M410.4 64.7h.6M411.4 66.1h.6M420.8 69.7h.6M406.4 72.4h.6M414.1 65.9h.6M426.3 67.5h.6M410.6 65.8h.6M413.4 64.6h.6M415.5 70.6h.6M419.2 63.4h.6M432.3 64.7h.6M417.9 67.9h.6M421.4 66.8h.6M419.8 74.5h.6M417.8 64.4h.6M419.1 65.3h.6M415.3 68.4h.6M419.1 66.9h.6M421.9 67.2h.6M410.3 70.6h.6M415.3 71.6h.6M413.8 69.6h.6M419.0 59.3h.6M409.3 64.3h.6M424.9 61.8h.6M422.2 71.3h.6M420.0 69.9h.6M414.6 67.8h.6M418.5 69.1h.6M421.1 67.1h.6M413.5 66.0h.6M419.5 62.5h.6M410.6 66.5h.6M414.3 66.9h.6M403.0 66.7h.6M416.0 70.3h.6M406.7 66.8h.6M419.9 69.4h.6M423.7 71.1h.6M411.7 69.8h.6M415.5 65.3h.6M425.6 65.8h.6M412.7 66.5h.6M412.7 71.0h.6M419.3 72.2h.6M419.5 65.8h.6M422.9 65.7h.6M414.8 67.3h.6M417.5 71.6h.6M414.0 68.9h.6M417.2 63.8h.6M411.4 67.1h.6M419.5 68.8h.6M419.9 68.0h.6M414.9 69.2h.6M411.9 63.5h.6M415.5 63.3h.6M414.5 65.4h.6M414.3 67.7h.6M413.0 66.5h.6M408.1 68.3h.6M412.5 69.1h.6M402.0 65.2h.6M418.6 60.0h.6M415.4 68.1h.6M417.9 63.0h.6M418.5 68.3h.6M412.0 70.2h.6M417.0 67.9h.6M414.9 69.5h.6M417.8 71.4h.6M419.7 65.8h.6M416.1 70.7h.6M415.3 69.0h.6M420.1 67.2h.6M404.7 68.2h.6M418.5 68.2h.6M413.2 71.7h.6M416.6 65.8h.6M413.4 68.9h.6M411.4 64.6h.6M428.1 72.0h.6M423.0 72.2h.6M420.5 62.4h.6M423.8 71.8h.6M420.0 61.6h.6M424.0 72.2h.6M414.6 68.2h.6M421.5 67.5h.6M423.3 68.1h.6M421.0 68.1h.6M409.3 64.6h.6M434.5 68.7h.6M424.4 71.4h.6M426.6 69.6h.6M414.1 67.9h.6M406.9 67.2h.6M422.2 60.9h.6M418.4 70.4h.6M424.5 64.8h.6M413.8 61.8h.6M411.8 69.5h.6M428.5 64.1h.6M424.8 69.2h.6M414.6 74.8h.6M403.6 67.6h.6M418.5 74.6h.6M427.1 75.1h.6M418.0 70.9h.6M424.7 69.4h.6M419.3 67.2h.6M415.1 63.9h.6M427.9 66.4h.6M406.0 68.6h.6M417.1 68.4h.6M427.2 67.5h.6M415.9 65.4h.6M417.2 66.4h.6M418.4 77.8h.6M419.4 65.1h.6M427.8 70.6h.6M421.7 70.1h.6M421.8 70.0h.6M425.0 71.0h.6M424.6 66.2h.6M417.3 65.5h.6M422.5 70.5h.6M414.8 69.7h.6M431.6 71.8h.6M411.2 67.5h.6M420.8 67.7h.6M419.4 71.6h.6M419.1 64.3h.6M421.2 67.5h.6M417.9 66.0h.6M409.8 63.8h.6M415.4 64.4h.6M402.5 71.5h.6M411.0 65.5h.6M420.2 60.1h.6M424.6 65.3h.6M420.9 66.3h.6M419.0 68.1h.6M417.3 61.9h.6M409.3 67.7h.6M425.0 66.0h.6M420.2 68.3h.6M419.9 71.0h.6M409.1 68.7h.6M416.3 66.8h.6M412.6 65.3h.6M411.7 64.3h.6M431.0 73.3h.6M417.4 70.2h.6M412.0 58.9h.6M407.4 68.3h.6M425.2 67.7h.6M411.8 67.0h.6M411.9 63.3h.6M416.0 66.5h.6M412.9 65.0h.6M412.2 68.6h.6M424.9 67.1h.6M429.5 62.6h.6M418.8 64.1h.6M416.4 68.1h.6M420.3 71.4h.6M414.3 63.8h.6M416.3 68.7h.6M413.5 70.7h.6M426.5 63.2h.6M419.3 71.1h.6M406.8 68.5h.6M416.1 63.2h.6M424.5 68.5h.6M414.7 69.2h.6M420.8 70.3h.6M420.5 69.1h.6M410.9 66.4h.6M418.0 58.9h.6M428.9 66.6h.6M411.5 61.9h.6M418.7 67.9h.6M414.1 66.5h.6M412.5 65.4h.6M416.8 65.7h.6M421.0 67.3h.6M418.0 69.1h.6M424.2 69.7h.6M418.5 67.3h.6M412.9 66.7h.6M421.0 68.5h.6M415.2 63.5h.6M408.9 68.8h.6M422.9 69.0h.6M409.8 67.1h.6M418.5 64.8h.6M419.2 67.2h.6M412.7 63.8h.6M421.7 68.9h.6M412.5 64.5h.6M422.2 69.7h.6M415.6 72.9h.6M415.7 64.4h.6M423.3 67.2h.6M419.2 67.9h.6M411.8 64.0h.6M416.2 72.3h.6M411.8 72.2h.6M418.5 64.2h.6M418.8 69.6h.6M412.4 61.0h.6M419.2 64.2h.6M419.7 61.7h.6M416.5 65.2h.6M409.2 67.0h.6M418.2 66.0h.6M410.9 68.5h.6M407.8 69.5h.6M420.0 73.2h.6M422.1 68.9h.6M418.7 67.9h.6M410.1 72.5h.6M420.2 66.9h.6M411.1 72.6h.6M420.2 64.0h.6M421.0 73.9h.6M417.2 69.1h.6M415.0 65.8h.6M423.1 77.7h.6M417.9 67.4h.6M421.6 66.8h.6M421.3 70.5h.6M411.8 64.4h.6M416.9 70.5h.6M418.8 71.8h.6M409.8 69.4h.6M413.9 68.1h.6M419.0 64.7h.6M416.1 64.1h.6M418.7 65.1h.6M414.6 68.5h.6M413.8 71.5h.6M413.8 70.5h.6M418.8 64.5h.6M416.1 65.1h.6M415.3 66.9h.6M427.2 66.5h.6M425.8 69.2h.6M410.2 60.4h.6M421.0 61.4h.6M421.2 71.1h.6M419.4 67.1h.6M415.9 68.6h.6M415.7 66.1h.6M415.3 71.5h.6M413.9 69.0h.6M411.1 65.5h.6M409.8 67.2h.6M421.0 68.8h.6M414.6 69.8h.6M415.4 69.0h.6M418.8 69.5h.6M403.9 63.6h.6M421.5 67.5h.6M429.5 67.0h.6M414.3 72.6h.6M420.3 73.9h.6M420.1 67.1h.6M421.2 65.3h.6M414.9 66.0h.6M416.1 70.3h.6M414.7 68.8h.6M414.6 70.6h.6M402.4 67.1h.6M418.2 64.4h.6M422.8 68.5h.6M424.2 70.9h.6M420.8 67.3h.6M411.4 67.1h.6M414.8 68.6h.6M414.8 77.5h.6M408.7 71.5h.6M414.8 67.0h.6M422.3 67.8h.6M410.7 69.1h.6M416.2 61.2h.6M418.4 64.4h.6M413.3 69.3h.6M418.9 66.9h.6M429.0 69.1h.6M414.0 68.6h.6M416.6 60.8h.6M408.8 63.4h.6M428.5 67.2h.6M415.8 66.0h.6M422.6 67.9h.6M426.5 70.3h.6M426.2 67.4h.6M419.3 66.4h.6M416.4 62.3h.6M414.2 64.8h.6M413.8 71.7h.6M418.7 71.7h.6M421.9 70.7h.6M422.7 65.9h.6M421.6 66.8h.6M414.4 71.6h.6M429.0 64.7h.6M426.7 70.4h.6M412.7 68.7h.6M419.3 69.0h.6M415.4 63.7h.6M417.5 70.5h.6M421.5 69.9h.6M423.2 64.6h.6M417.1 68.9h.6M422.7 68.3h.6M420.1 68.2h.6M428.6 60.9h.6M417.2 75.7h.6M418.6 62.0h.6M418.0 63.2h.6M413.6 68.5h.6M426.5 69.3h.6M420.9 71.0h.6M418.4 65.1h.6M416.8 68.9h.6M415.8 65.7h.6M415.4 63.0h.6M411.8 67.5h.6M415.4 67.9h.6M424.9 68.8h.6M417.1 64.1h.6M411.5 69.0h.6M412.6 69.2h.6M411.5 68.2h.6M416.9 71.0h.6M415.2 66.6h.6M418.6 68.0h.6M426.4 67.0h.6M414.4 66.8h.6M419.9 68.5h.6M421.0 63.4h.6M430.7 73.6h.6M417.1 64.0h.6M418.1 69.1h.6M405.3 67.8h.6M409.3 69.3h.6M424.7 71.1h.6M409.2 72.2h.6M422.2 66.7h.6M420.0 72.6h.6M415.5 67.8h.6M414.3 71.5h.6M405.7 72.3h.6M412.1 70.7h.6M408.5 64.8h.6M414.1 70.4h.6M408.6 69.7h.6M413.9 71.7h.6M415.6 69.3h.6M416.4 73.5h.6M415.4 67.7h.6M428.0 68.0h.6M421.0 65.5h.6M418.4 60.6h.6M417.9 65.7h.6M409.2 63.3h.6M423.5 69.2h.6M409.1 73.6h.6M413.6 66.6h.6M418.6 64.2h.6M408.6 65.4h.6M423.7 70.8h.6M408.8 71.6h.6M417.5 69.4h.6M417.6 69.1h.6M411.9 64.9h.6M413.5 66.6h.6M420.6 63.9h.6M425.9 65.8h.6M414.1 70.0h.6M419.6 66.7h.6M411.5 64.6h.6M408.7 71.4h.6M423.1 73.7h.6M420.0 68.9h.6M421.4 70.8h.6M415.9 68.9h.6M428.9 62.4h.6M409.7 64.7h.6M421.4 71.6h.6M415.5 69.9h.6M417.0 68.8h.6M414.4 67.7h.6M417.3 71.4h.6M429.3 62.0h.6M420.2 67.8h.6M422.5 71.2h.6M421.5 70.4h.6M412.2 62.4h.6M426.3 71.6h.6M412.2 71.9h.6M420.9 60.0h.6M422.1 64.7h.6M423.6 65.6h.6M413.3 62.9h.6M416.1 71.0h.6M413.7 61.9h.6M428.9 73.7h.6M421.0 66.1h.6M410.8 62.6h.6M420.3 71.9h.6M411.6 67.8h.6M415.8 67.0h.6M420.0 74.5h.6M413.9 70.5h.6M423.2 66.9h.6M416.5 63.5h.6M423.1 66.1h.6M413.8 68.0h.6M412.7 64.5h.6M415.7 72.5h.6M416.2 69.5h.6M409.4 61.6h.6M427.1 66.5h.6M409.0 67.5h.6M420.6 62.3h.6M412.5 68.6h.6M412.3 70.3h.6M422.5 69.2h.6M415.0 67.7h.6M413.9 67.4h.6M419.0 66.8h.6M422.6 76.1h.6M414.3 68.9h.6M421.7 69.9h.6M416.0 66.3h.6M422.7 69.8h.6M420.0 65.2h.6M420.7 70.3h.6M416.3 69.9h.6M429.0 61.8h.6M420.6 64.1h.6M409.9 67.0h.6M420.3 68.0h.6M411.0 63.2h.6M414.3 67.8h.6M412.8 63.0h.6M426.8 65.1h.6M416.5 66.1h.6M414.1 67.9h.6M415.7 69.8h.6M410.9 63.1h.6M427.9 67.6h.6M421.5 71.6h.6M420.3 67.9h.6M408.9 62.7h.6M422.6 70.0h.6M420.4 62.5h.6M405.7 64.4h.6M410.9 68.3h.6M411.8 72.9h.6M413.9 66.0h.6M422.0 68.9h.6M412.4 70.4h.6M427.7 63.9h.6M416.0 64.4h.6M406.8 69.8h.6M421.1 70.9h.6M419.6 61.4h.6M417.2 65.7h.6M410.9 64.3h.6M421.5 66.9h.6M428.0 69.3h.6M406.9 70.7h.6M424.1 67.9h.6M410.7 73.5h.6M410.2 67.5h.6M406.9 63.8h.6M408.0 71.3h.6M423.7 66.5h.6M409.9 67.6h.6M419.4 62.9h.6M411.0 67.5h.6M421.1 68.0h.6M419.8 63.8h.6M403.7 68.8h.6M412.3 67.4h.6M415.2 69.3h.6M413.1 72.4h.6M417.5 69.5h.6M420.7 71.1h.6M419.5 62.2h.6M413.9 73.8h.6M419.9 69.6h.6M419.9 65.7h.6M413.6 65.7h.6M423.6 69.0h.6M427.0 69.4h.6M427.7 69.3h.6M410.8 73.4h.6M419.2 71.6h.6M418.5 66.7h.6M418.2 64.2h.6M410.7 64.9h.6M414.4 63.4h.6M416.7 68.8h.6M428.4 73.8h.6M417.0 70.7h.6M416.1 69.1h.6M417.1 66.0h.6M417.7 63.0h.6M419.7 66.9h.6M411.3 66.6h.6M420.3 65.6h.6M419.9 69.6h.6M425.9 64.3h.6M416.7 69.5h.6M425.6 68.7h.6M421.5 63.0h.6M414.1 73.2h.6M415.7 74.8h.6M413.3 66.9h.6M408.5 69.9h.6M418.8 74.4h.6M418.2 67.0h.6M409.5 67.5h.6M422.5 70.2h.6M424.1 70.6h.6M417.0 69.8h.6M418.3 63.5h.6M426.8 69.0h.6M411.5 69.1h.6M418.9 71.0h.6M425.3 57.9h.6M420.4 72.8h.6M412.1 61.7h.6M418.8 68.9h.6M419.2 64.2h.6M414.7 68.4h.6M421.4 75.0h.6M418.9 65.8h.6M404.2 71.3h.6M416.6 67.4h.6M411.8 70.2h.6M407.4 68.2h.6M418.0 68.8h.6M424.5 67.5h.6M417.8 70.6h.6M408.7 66.8h.6M417.7 70.9h.6M412.9 70.4h.6M419.4 62.9h.6M409.1 63.1h.6M418.1 68.5h.6M421.3 70.5h.6M414.2 71.3h.6M421.9 69.3h.6M420.0 63.6h.6M419.3 64.4h.6M410.7 66.7h.6M418.1 67.6h.6M415.5 64.5h.6M418.3 65.4h.6M409.5 68.1h.6M425.4 66.5h.6M411.4 72.3h.6M426.8 66.8h.6M416.1 68.5h.6M433.7 68.2h.6M422.8 69.3h.6M407.2 64.2h.6M410.4 69.2h.6M417.9 73.7h.6M415.8 68.8h.6M417.7 68.3h.6M430.2 68.7h.6M425.5 72.1h.6M413.9 70.1h.6M415.2 68.2h.6M418.2 67.9h.6M414.7 72.9h.6M415.8 70.1h.6M426.7 69.9h.6M423.0 72.4h.6M423.4 73.5h.6M409.3 74.2h.6M417.5 62.0h.6M413.7 63.2h.6M417.2 62.9h.6M411.7 68.8h.6M418.2 65.2h.6M416.0 67.5h.6M417.7 67.8h.6M416.1 70.7h.6M408.3 66.2h.6M418.0 66.5h.6M414.2 66.4h.6M418.5 71.9h.6M416.3 66.9h.6M419.3 67.0h.6M406.5 68.7h.6M415.2 65.9h.6M420.8 67.9h.6M414.1 60.6h.6M407.7 67.8h.6M416.6 69.2h.6M418.5 66.2h.6M410.2 64.2h.6M416.5 64.0h.6M421.5 63.4h.6M407.3 67.2h.6M407.4 73.2h.6M411.7 67.6h.6M415.9 65.1h.6M407.4 61.7h.6M422.1 71.2h.6M429.4 63.0h.6M420.4 67.8h.6M422.0 66.1h.6M421.3 70.8h.6M420.7 72.6h.6M416.3 72.9h.6M413.4 73.3h.6M401.9 67.8h.6M412.8 67.8h.6M423.1 70.2h.6M417.8 73.4h.6M409.0 65.1h.6M425.8 68.9h.6M405.7 68.9h.6M410.7 72.7h.6M423.7 66.0h.6M424.5 65.0h.6M422.5 69.7h.6M416.6 63.1h.6M415.7 60.2h.6M414.1 61.7h.6M424.1 64.6h.6M403.7 69.7h.6M419.4 66.1h.6M429.2 70.4h.6M417.7 65.7h.6M400.7 69.4h.6M422.7 65.8h.6M409.4 67.7h.6M407.9 67.8h.6M421.6 72.8h.6M418.8 68.4h.6M421.5 72.4h.6M415.5 63.7h.6M412.9 63.6h.6M412.3 67.4h.6M419.2 68.3h.6M417.7 66.6h.6M419.7 70.7h.6M421.6 72.7h.6M415.7 67.0h.6M426.8 68.5h.6M419.6 66.7h.6M422.7 66.5h.6M411.7 67.6h.6M414.8 70.6h.6M415.2 68.2h.6M416.1 68.9h.6M413.8 71.4h.6M409.3 66.5h.6M413.3 69.9h.6M417.5 69.4h.6M415.5 65.4h.6M411.0 66.7h.6M414.3 68.7h.6M419.3 71.0h.6M416.7 65.3h.6M411.4 68.0h.6M419.3 74.2h.6M418.3 73.6h.6M427.8 64.3h.6M424.1 71.6h.6M424.8 67.8h.6M422.6 66.2h.6M416.9 67.9h.6M427.3 67.1h.6M422.6 68.0h.6M413.3 68.6h.6M421.0 65.5h.6M420.9 65.4h.6M412.4 68.5h.6M416.0 64.6h.6M408.2 67.9h.6M418.7 66.3h.6M418.3 62.8h.6M419.5 69.2h.6M418.9 65.8h.6M417.7 68.2h.6M423.3 68.7h.6M418.7 65.4h.6M422.1 71.7h.6M414.5 69.9h.6M419.0 67.6h.6M410.1 73.6h.6M406.9 68.8h.6M415.2 71.6h.6M414.9 67.9h.6M420.7 69.3h.6M414.4 70.0h.6M419.5 71.1h.6M414.4 67.6h.6M415.1 65.0h.6M418.7 69.1h.6M425.2 66.7h.6M419.5 71.6h.6M416.7 68.0h.6M418.0 65.5h.6M411.8 71.5h.6M418.3 67.6h.6M410.4 68.2h.6M423.9 64.0h.6M412.3 71.4h.6M425.3 72.9h.6M414.2 69.8h.6M413.1 69.5h.6M415.3 68.4h.6M424.8 68.9h.6M416.0 68.0h.6M418.8 66.1h.6M418.5 69.8h.6M426.0 61.0h.6M410.7 63.7h.6M422.2 75.8h.6M418.4 68.2h.6M423.6 59.8h.6M416.3 57.6h.6M418.2 66.1h.6M414.6 68.9h.6M414.0 71.4h.6M417.3 69.0h.6M431.4 66.3h.6M422.5 65.1h.6M424.2 71.0h.6M418.1 71.0h.6M426.2 72.3h.6M417.3 67.6h.6M423.5 63.0h.6M414.0 69.4h.6M420.5 73.9h.6M427.1 68.9h.6M419.8 63.5h.6M416.3 68.7h.6M416.0 68.0h.6M420.7 64.7h.6M414.2 62.0h.6M423.7 64.4h.6M407.9 70.3h.6M416.1 71.0h.6M415.3 74.7h.6M421.3 68.3h.6M417.9 67.1h.6M421.8 74.3h.6M415.0 64.2h.6M420.6 71.3h.6M409.0 65.5h.6M411.8 69.6h.6M420.1 65.4h.6M411.1 70.0h.6M405.9 69.9h.6M416.4 74.1h.6M422.8 65.9h.6M415.8 66.9h.6M413.3 68.1h.6M422.6 62.9h.6M416.0 72.7h.6M421.4 65.2h.6M412.8 65.0h.6M408.4 71.5h.6M417.7 65.5h.6M409.4 66.6h.6M414.5 73.4h.6M414.8 68.2h.6M423.2 70.0h.6M416.3 60.7h.6M425.0 69.7h.6M414.9 67.5h.6M412.0 64.9h.6M409.1 69.4h.6M420.2 68.4h.6M421.6 69.5h.6M418.0 64.9h.6M420.6 71.7h.6M420.8 71.8h.6M414.7 64.6h.6M424.2 65.9h.6M418.6 67.2h.6M417.4 66.9h.6M414.3 62.0h.6M427.8 68.5h.6M406.7 64.9h.6M411.1 65.4h.6M403.3 69.7h.6M426.3 67.0h.6M421.4 69.7h.6M410.5 71.7h.6M408.0 65.9h.6M415.3 71.9h.6M418.0 67.4h.6M412.9 68.1h.6M417.5 70.2h.6M425.0 70.2h.6M417.4 67.3h.6M426.1 68.4h.6M417.2 73.6h.6M425.9 69.6h.6M416.7 65.8h.6M423.2 66.3h.6M422.6 65.3h.6M417.9 69.1h.6M418.1 68.6h.6M419.4 64.2h.6M411.2 67.3h.6M427.2 67.4h.6M412.2 65.7h.6M417.5 71.6h.6M414.2 69.6h.6M418.3 66.7h.6M412.1 67.3h.6M413.3 69.5h.6M407.7 71.4h.6M421.5 69.7h.6M425.5 69.7h.6M408.0 68.0h.6M419.8 65.6h.6M411.1 69.2h.6M420.1 66.4h.6M416.0 66.2h.6M414.2 67.6h.6M423.2 62.6h.6M415.4 73.0h.6M419.0 68.3h.6M421.9 64.6h.6M410.7 62.5h.6M409.3 68.6h.6M421.9 66.5h.6M413.6 69.1h.6M420.7 68.6h.6M406.9 66.0h.6M403.5 68.6h.6M412.7 65.7h.6M425.5 72.0h.6M419.9 68.7h.6M418.2 65.9h.6M417.0 73.9h.6M430.5 66.0h.6M422.2 70.2h.6M430.0 65.2h.6M421.8 67.1h.6M434.7 68.0h.6M425.9 70.3h.6M425.4 65.7h.6M421.2 66.8h.6M427.7 66.5h.6M432.7 66.7h.6M440.3 65.7h.6M429.7 73.7h.6M432.6 66.8h.6M424.1 64.0h.6M425.0 67.7h.6M423.6 73.9h.6M423.4 70.0h.6M430.0 66.1h.6M427.2 72.0h.6M428.6 68.2h.6M433.1 70.2h.6M426.5 73.8h.6M437.5 70.0h.6M423.4 68.0h.6M426.7 68.6h.6M423.2 69.6h.6M433.0 68.6h.6M426.6 70.0h.6M438.4 65.5h.6M425.2 69.3h.6M426.6 69.2h.6M421.4 67.5h.6M440.0 72.5h.6M436.6 60.9h.6M425.4 66.0h.6M426.3 63.5h.6M424.4 67.7h.6M426.6 70.2h.6M448.7 71.8h.6M434.0 66.7h.6M428.0 67.7h.6M433.8 69.4h.6M420.7 69.3h.6M428.7 70.0h.6M437.8 66.8h.6M426.8 63.3h.6M431.2 70.2h.6M432.2 72.5h.6M421.6 63.1h.6M436.3 70.2h.6M423.5 70.8h.6M438.4 67.5h.6M431.7 66.0h.6M428.2 66.8h.6M424.3 68.7h.6M446.3 64.4h.6M429.4 71.4h.6M433.4 68.0h.6M447.2 70.7h.6M454.9 67.2h.6M440.2 68.6h.6M428.8 66.3h.6M430.1 68.6h.6M425.7 65.3h.6M422.9 68.9h.6M430.3 70.8h.6M439.7 68.9h.6M424.8 72.1h.6M427.8 66.0h.6M435.9 73.2h.6M427.5 64.8h.6M424.2 65.2h.6M438.1 68.9h.6M444.0 68.4h.6M431.0 67.8h.6M425.8 67.5h.6M422.7 68.4h.6M428.5 68.7h.6M422.2 67.7h.6M428.3 65.0h.6M423.2 70.0h.6M448.5 66.3h.6M436.1 70.3h.6M428.6 71.5h.6M431.8 65.7h.6M442.9 66.6h.6M422.8 63.3h.6M432.1 64.6h.6M421.9 62.8h.6M432.7 66.8h.6M427.4 66.1h.6M429.0 72.0h.6M425.1 72.2h.6M439.1 71.5h.6M423.8 63.7h.6M428.2 66.7h.6M422.6 62.7h.6M423.6 68.4h.6M431.2 68.6h.6M439.8 68.4h.6M428.3 74.3h.6M445.4 65.3h.6M425.1 66.2h.6M447.1 68.5h.6M430.0 65.6h.6M437.4 69.2h.6M434.2 63.6h.6M420.3 72.2h.6M443.9 71.4h.6M420.3 68.3h.6M427.6 70.8h.6M428.4 68.1h.6M444.4 63.7h.6M441.1 68.0h.6M422.8 61.8h.6M420.7 73.5h.6M437.8 61.3h.6M422.2 66.3h.6M422.8 64.4h.6M436.2 64.4h.6M427.8 67.7h.6M429.9 64.9h.6M427.2 66.6h.6M421.3 70.4h.6M420.7 66.8h.6M439.8 68.0h.6M429.5 66.1h.6M421.1 63.0h.6M436.0 68.9h.6M435.5 67.0h.6M439.9 66.8h.6M438.7 67.0h.6M443.0 68.6h.6M422.1 70.6h.6M424.8 68.7h.6M422.7 69.0h.6M437.6 69.7h.6M430.7 61.5h.6M452.2 65.3h.6M437.9 67.9h.6M428.3 69.3h.6M430.8 66.0h.6M427.2 68.8h.6M427.5 69.4h.6M424.3 66.5h.6M433.3 69.1h.6M432.8 60.8h.6M432.2 61.1h.6M422.8 66.0h.6M421.7 66.5h.6M424.0 68.3h.6M424.4 65.6h.6M450.2 65.6h.6M426.7 65.5h.6M425.4 66.8h.6M431.4 71.0h.6M439.9 67.5h.6M420.9 70.4h.6M436.0 65.4h.6M433.7 70.3h.6M426.1 65.7h.6M424.5 63.9h.6M426.2 67.2h.6M449.5 69.4h.6M429.4 70.8h.6M437.4 64.2h.6M430.0 64.2h.6M444.7 65.1h.6M424.0 68.4h.6M425.7 71.8h.6M433.2 70.2h.6M422.1 64.6h.6M422.1 63.9h.6M439.6 65.8h.6M432.3 71.4h.6M427.7 65.3h.6M421.9 64.9h.6M431.0 68.3h.6M429.4 65.9h.6M428.9 63.8h.6M440.4 65.6h.6M422.6 65.2h.6M439.7 70.1h.6M435.8 69.6h.6M421.4 72.5h.6M428.2 69.0h.6M427.2 69.8h.6M423.6 67.3h.6M439.3 73.5h.6M435.8 61.8h.6M428.8 73.2h.6M434.9 66.1h.6M423.5 67.7h.6M444.0 66.9h.6M423.8 71.1h.6M434.7 61.5h.6M439.1 68.7h.6M421.3 68.2h.6M422.1 66.8h.6M436.6 69.1h.6M424.9 69.4h.6M435.2 64.3h.6M448.3 62.8h.6M445.9 65.2h.6M425.1 67.8h.6M429.0 76.8h.6M426.5 67.3h.6M427.5 68.5h.6M426.5 65.1h.6M436.1 71.0h.6M425.6 67.5h.6M423.1 63.2h.6M428.2 65.1h.6M426.3 70.6h.6M431.3 66.3h.6M430.6 73.0h.6M428.6 70.9h.6M428.1 68.9h.6M426.1 64.6h.6M432.6 72.8h.6M420.9 68.6h.6M434.4 72.8h.6M421.1 64.2h.6M429.5 63.7h.6M428.5 61.8h.6M436.8 74.0h.6M427.9 66.0h.6M427.2 66.2h.6M426.9 71.9h.6M432.4 69.0h.6M441.9 72.1h.6M421.4 65.8h.6M438.7 67.5h.6M436.7 70.8h.6M440.2 65.6h.6M421.0 68.8h.6M422.6 72.1h.6M428.9 70.6h.6M436.7 62.3h.6M431.9 65.3h.6M426.9 68.9h.6M422.4 68.0h.6M425.8 67.6h.6M426.1 69.9h.6M429.7 67.5h.6M429.4 67.3h.6M437.5 70.5h.6M428.4 67.5h.6M428.5 66.5h.6M428.3 63.5h.6M439.9 77.0h.6M435.1 64.5h.6M427.2 69.5h.6M439.2 62.4h.6M426.8 62.2h.6M437.4 66.4h.6M421.3 67.8h.6M427.0 67.4h.6M423.9 71.3h.6M421.4 67.7h.6M426.7 66.0h.6M429.1 67.8h.6M442.3 70.9h.6M423.1 72.5h.6M432.5 68.4h.6M422.3 64.7h.6M423.3 66.9h.6M439.3 64.2h.6M443.5 68.4h.6M426.3 68.4h.6M425.9 69.1h.6M433.3 66.9h.6M426.4 70.7h.6M426.1 68.3h.6M429.2 69.5h.6M424.7 71.0h.6M429.5 72.5h.6M424.0 65.4h.6M431.1 69.7h.6M430.6 72.9h.6M435.7 69.3h.6M437.4 67.7h.6M429.0 62.7h.6M425.4 74.0h.6M426.7 70.1h.6M435.7 65.1h.6M424.4 68.6h.6M426.0 64.6h.6M422.9 67.5h.6M431.7 63.3h.6M427.1 66.4h.6M424.1 69.8h.6M427.8 75.5h.6M428.8 70.2h.6M432.5 70.5h.6M422.7 65.5h.6M423.4 69.7h.6M421.8 69.4h.6M427.2 65.3h.6M431.5 71.8h.6M426.1 63.4h.6M442.6 65.5h.6M431.5 70.5h.6M433.9 65.4h.6M432.9 65.5h.6M450.4 68.1h.6M452.5 68.2h.6M421.0 66.0h.6M423.0 66.4h.6M420.6 70.0h.6M435.6 65.2h.6M445.4 72.0h.6M421.2 67.8h.6M421.0 70.6h.6M424.2 70.2h.6M422.3 67.5h.6M421.0 62.6h.6M433.4 63.4h.6M432.2 69.7h.6M421.0 70.1h.6M440.8 73.0h.6M436.9 67.2h.6M444.9 65.3h.6M421.3 70.6h.6M422.9 67.5h.6M424.5 71.6h.6M449.9 71.4h.6M433.0 67.6h.6M427.0 65.1h.6M433.6 76.4h.6M431.3 71.7h.6M421.0 66.9h.6M426.1 67.3h.6M435.3 64.0h.6M440.2 67.8h.6M426.9 68.7h.6M426.0 63.5h.6M431.7 69.6h.6M432.3 64.6h.6M427.2 64.8h.6M428.1 68.8h.6M420.7 66.0h.6M424.4 67.9h.6M429.2 68.7h.6M428.3 70.5h.6M427.8 65.9h.6M427.3 68.0h.6M428.8 65.2h.6M440.3 64.6h.6M424.5 71.2h.6M427.8 68.2h.6M424.4 70.0h.6M425.6 71.2h.6M429.5 65.7h.6M425.1 61.2h.6M422.5 67.9h.6M427.3 67.0h.6M430.3 71.5h.6M430.4 66.3h.6M423.4 69.2h.6M422.0 70.1h.6M434.5 70.0h.6M434.3 70.9h.6M425.4 67.1h.6M425.1 67.6h.6M439.3 66.1h.6M420.8 66.4h.6M431.5 67.2h.6M424.8 68.0h.6M420.9 68.3h.6M432.2 68.2h.6M425.2 64.4h.6M455.7 66.7h.6M428.4 66.9h.6M427.8 64.3h.6M431.0 66.3h.6M423.2 71.0h.6M426.7 74.1h.6M421.9 70.5h.6M428.6 66.0h.6M420.9 66.2h.6M432.6 68.6h.6M429.6 72.5h.6M429.2 66.3h.6M421.4 66.3h.6M420.9 66.1h.6M437.4 61.0h.6M435.8 72.1h.6M425.6 68.2h.6M425.9 67.4h.6M423.9 63.9h.6M429.9 65.3h.6M435.4 64.8h.6M434.4 66.5h.6M453.0 67.6h.6M420.7 71.6h.6M430.8 70.4h.6M433.1 71.0h.6M440.5 67.5h.6M426.1 64.7h.6M432.5 68.6h.6M420.4 64.3h.6M439.8 70.3h.6M420.5 71.9h.6M431.7 70.3h.6M432.3 71.8h.6M423.6 71.2h.6M425.3 68.9h.6M434.0 65.3h.6M421.5 65.5h.6M430.5 66.1h.6M424.8 67.2h.6M434.3 64.9h.6M420.6 66.9h.6M426.9 65.6h.6M422.2 68.3h.6M438.9 68.5h.6M434.5 67.8h.6M447.7 65.1h.6M421.1 67.1h.6" stroke="#000" stroke-width=".6" opacity=".8"/>
</g>
<rect x="360.2" y="51.6" width="30.4" height="39.5" fill="none" stroke="#000" stroke-width="1.3"/>
<rect x="441" y="51.8" width="28.8" height="39.5" fill="none" stroke="#000" stroke-width="1.3"/>
<text x="362.4" y="87.6" font-size="10.2" fill="#222">0.02%</text>
<text x="445.3" y="88.1" font-size="10.2" fill="#222">1.2%</text>
<path d="M312,110.8V60" stroke="#000" stroke-width="1.8"/><path d="M304,61.5L320.3,61.5L312.1,46Z" fill="#000"/>
<path d="M323.8,123.4H455" stroke="#000" stroke-width="1.8"/><path d="M452.5,115.3L452.5,131.8L469,123.5Z" fill="#000"/>
<text transform="translate(298,106.6) rotate(-90)" font-size="11.4" letter-spacing="0.25">CD4-Cy</text>
<text x="364.7" y="138.8" font-size="11.8">CD25-PE</text>
<text x="-1.2" y="353.7" font-size="24.6" font-weight="bold">B</text>
<text transform="translate(14.7,508.4) rotate(-90)" font-size="14.4"><tspan letter-spacing="0.12">Absolute </tspan><tspan letter-spacing="-0.45">counts/µL</tspan></text>
<path d="M44.7,367.95V523.3M39.7,523.3H114.5" fill="none" stroke="#222" stroke-width="1"/>
<path d="M39.7,471.65H44.7" stroke="#222" stroke-width="1"/>
<path d="M39.7,420.00H44.7" stroke="#222" stroke-width="1"/>
<path d="M39.7,368.35H44.7" stroke="#222" stroke-width="1"/>
<text x="38.1" y="528.10" font-size="13.4" text-anchor="end">0</text>
<text x="38.1" y="476.45" font-size="13.4" text-anchor="end">5</text>
<text x="38.1" y="424.80" font-size="13.4" text-anchor="end">10</text>
<text x="38.1" y="373.15" font-size="13.4" text-anchor="end">15</text>
<path d="M53.50,490.5V469.8M50.90,469.8H56.10" stroke="#3a3a3a" stroke-width="1.1" fill="none"/>
<rect x="49.00" y="490.5" width="9.00" height="32.80" fill="#c2c2c2" stroke="#151515" stroke-width="1.1"/>
<path d="M66.90,508.2V504.6M64.30,504.6H69.50" stroke="#3a3a3a" stroke-width="1.1" fill="none"/>
<rect x="62.40" y="508.2" width="9.00" height="15.10" fill="#969696" stroke="#151515" stroke-width="1.1"/>
<path d="M80.15,484.6V469.8M77.55,469.8H82.75" stroke="#3a3a3a" stroke-width="1.1" fill="none"/>
<rect x="75.60" y="484.6" width="9.10" height="38.70" fill="#646464" stroke="#151515" stroke-width="1.1"/>
<path d="M93.65,453.3V440.6M91.05,440.6H96.25" stroke="#3a3a3a" stroke-width="1.1" fill="none"/>
<rect x="89.20" y="453.3" width="8.90" height="70.00" fill="#000" stroke="#151515" stroke-width="1.1"/>
<path d="M107.05,419.2V376M104.45,376H109.65" stroke="#3a3a3a" stroke-width="1.1" fill="none"/>
<rect x="102.50" y="419.2" width="9.10" height="104.10" fill="url(#hs)" stroke="#151515" stroke-width="1.1"/>
<text x="41" y="540" font-size="12.6">CD4CD25<tspan font-size="7.8" dy="-2.8" stroke-width="0.08">bright</tspan></text>
<path d="M164.5,369.5V525.9M159.9,525.9H409.5" fill="none" stroke="#222" stroke-width="1"/>
<path d="M159.9,447.90H164.5" stroke="#222" stroke-width="1"/>
<path d="M159.9,369.90H164.5" stroke="#222" stroke-width="1"/>
<text x="153.4" y="532.40" font-size="14.5" text-anchor="end">0</text>
<text x="158.4" y="453.00" font-size="14.5" text-anchor="end">1000</text>
<text x="156.6" y="375.00" font-size="14.5" text-anchor="end">2000</text>
<path d="M172.70,451V394.5M170.10,394.5H175.30" stroke="#3a3a3a" stroke-width="1.1" fill="none"/>
<rect x="168.90" y="451" width="7.60" height="74.90" fill="#c2c2c2" stroke="#151515" stroke-width="1.1"/>
<path d="M184.75,520.5V516.1M182.15,516.1H187.35" stroke="#3a3a3a" stroke-width="1.1" fill="none"/>
<rect x="181.00" y="520.5" width="7.50" height="5.40" fill="#969696" stroke="#151515" stroke-width="1.1"/>
<path d="M196.75,509.6V498.7M194.15,498.7H199.35" stroke="#3a3a3a" stroke-width="1.1" fill="none"/>
<rect x="192.90" y="509.6" width="7.70" height="16.30" fill="#646464" stroke="#151515" stroke-width="1.1"/>
<path d="M208.80,502.8V484.2M206.20,484.2H211.40" stroke="#3a3a3a" stroke-width="1.1" fill="none"/>
<rect x="204.90" y="502.8" width="7.80" height="23.10" fill="#000" stroke="#151515" stroke-width="1.1"/>
<path d="M220.90,475.3V455.1M218.30,455.1H223.50" stroke="#3a3a3a" stroke-width="1.1" fill="none"/>
<rect x="217.00" y="475.3" width="7.80" height="50.60" fill="url(#hs)" stroke="#151515" stroke-width="1.1"/>
<path d="M257.60,495.4V473.5M255.00,473.5H260.20" stroke="#3a3a3a" stroke-width="1.1" fill="none"/>
<rect x="253.30" y="495.4" width="8.60" height="30.50" fill="#c2c2c2" stroke="#151515" stroke-width="1.1"/>
<path d="M269.60,524.5V523.3M267.00,523.3H272.20" stroke="#3a3a3a" stroke-width="1.1" fill="none"/>
<rect x="265.30" y="524.5" width="8.60" height="1.40" fill="#969696" stroke="#151515" stroke-width="1.1"/>
<path d="M281.45,520V515M278.85,515H284.05" stroke="#3a3a3a" stroke-width="1.1" fill="none"/>
<rect x="277.40" y="520" width="8.10" height="5.90" fill="#646464" stroke="#151515" stroke-width="1.1"/>
<path d="M293.40,505.7V494.4M290.80,494.4H296.00" stroke="#3a3a3a" stroke-width="1.1" fill="none"/>
<rect x="289.40" y="505.7" width="8.00" height="20.20" fill="#000" stroke="#151515" stroke-width="1.1"/>
<path d="M305.50,499.3V481.5M302.90,481.5H308.10" stroke="#3a3a3a" stroke-width="1.1" fill="none"/>
<rect x="301.50" y="499.3" width="8.00" height="26.60" fill="url(#hs)" stroke="#151515" stroke-width="1.1"/>
<path d="M341.70,508.1V490.9M339.10,490.9H344.30" stroke="#3a3a3a" stroke-width="1.1" fill="none"/>
<rect x="337.70" y="508.1" width="8.00" height="17.80" fill="#c2c2c2" stroke="#151515" stroke-width="1.1"/>
<path d="M353.70,521.6V518.1M351.10,518.1H356.30" stroke="#3a3a3a" stroke-width="1.1" fill="none"/>
<rect x="349.70" y="521.6" width="8.00" height="4.30" fill="#969696" stroke="#151515" stroke-width="1.1"/>
<path d="M365.75,520.5V516.7M363.15,516.7H368.35" stroke="#3a3a3a" stroke-width="1.1" fill="none"/>
<rect x="361.80" y="520.5" width="7.90" height="5.40" fill="#646464" stroke="#151515" stroke-width="1.1"/>
<path d="M377.80,514.3V509.9M375.20,509.9H380.40" stroke="#3a3a3a" stroke-width="1.1" fill="none"/>
<rect x="373.80" y="514.3" width="8.00" height="11.60" fill="#000" stroke="#151515" stroke-width="1.1"/>
<path d="M389.90,516V508.1M387.30,508.1H392.50" stroke="#3a3a3a" stroke-width="1.1" fill="none"/>
<rect x="385.90" y="516" width="8.00" height="9.90" fill="url(#hs)" stroke="#151515" stroke-width="1.1"/>
<text x="198.3" y="540.7" font-size="12.65" text-anchor="middle">CD4</text>
<text x="243.1" y="540.7" font-size="12.65">CD4CD45RA</text>
<text x="327.7" y="540.7" font-size="12.75">CD4CD45RO</text>
<rect x="320.5" y="366.30" width="22" height="5" fill="#c2c2c2" stroke="#151515" stroke-width="1.2"/>
<text x="348.6" y="373.0" font-size="12">Bef ASCT</text>
<rect x="320.5" y="385.20" width="22" height="5" fill="#969696" stroke="#151515" stroke-width="1.2"/>
<text x="348.6" y="391.9" font-size="12">+3 m</text>
<rect x="320.5" y="404.10" width="22" height="5" fill="#646464" stroke="#151515" stroke-width="1.2"/>
<text x="348.6" y="410.8" font-size="12">+6 m</text>
<rect x="320.5" y="423.00" width="22" height="5" fill="#000" stroke="#151515" stroke-width="1.2"/>
<text x="348.6" y="429.7" font-size="12">+9 m</text>
<rect x="320.5" y="442.30" width="22" height="5" fill="#fff" stroke="#151515" stroke-width="1.2"/>
<path d="M320.4,444.8H342.6" stroke="#777" stroke-width="0.8"/>
<text x="348.6" y="449.0" font-size="12">+12 m</text>
</svg></body></html>
